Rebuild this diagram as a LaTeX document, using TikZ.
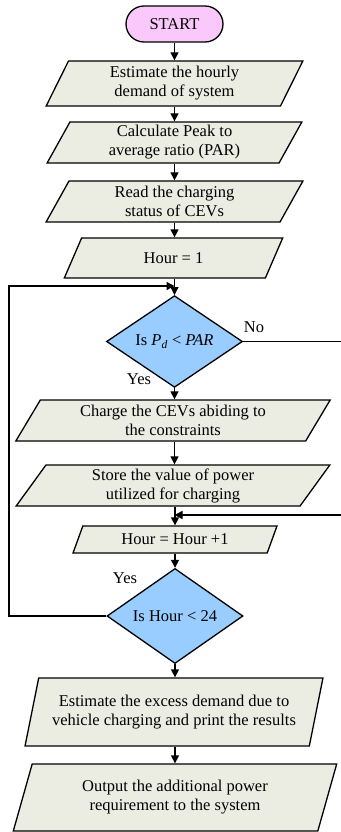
\documentclass[tikz,border=0pt]{standalone}
\usepackage{fontspec}
\setmainfont{Liberation Serif}
\usetikzlibrary{shapes.geometric, shapes.misc, arrows.meta}
\definecolor{boxfill}{RGB}{235,237,226}
\definecolor{startfill}{RGB}{250,200,250}
\definecolor{decfill}{RGB}{153,204,255}

\begin{document}
\begin{tikzpicture}[x=1pt, y=-1pt,
  font=\fontsize{16.5}{19}\selectfont, line width=1.3pt,
  databox/.style={draw, fill=boxfill, trapezium, trapezium stretches=true,
    align=center, inner sep=1pt},
  decision/.style={draw, diamond, fill=decfill, inner sep=0pt,
    minimum width=136pt, minimum height=81pt},
  flow/.style={-{Triangle[length=8pt,width=8pt]}}]
\useasboundingbox (0,0) rectangle (340,832);

% main column
\node[draw, rounded rectangle, fill=startfill, minimum width=97pt,
  minimum height=36pt, inner sep=0pt] (start) at (174.5,24) {START};
\node[databox, trapezium left angle=69, trapezium right angle=111,
  minimum width=257pt, minimum height=45pt] (b1) at (174.5,83.5)
  {Estimate the hourly\\demand of system};
\node[databox, trapezium left angle=68, trapezium right angle=112,
  minimum width=255pt, minimum height=41pt] (b2) at (174.5,142.5)
  {Calculate Peak to\\average ratio (PAR)};
\node[databox, trapezium left angle=68, trapezium right angle=112,
  minimum width=257pt, minimum height=41pt] (b3) at (174.5,201.5)
  {Read the charging\\status of CEVs};
\node[databox, trapezium left angle=66, trapezium right angle=114,
  minimum width=219pt, minimum height=40pt] (b4) at (173.5,258)
  {Hour = 1};
\node[decision] (d1) at (174.5,341.5)
  {Is \textit{P}\textsubscript{\textit{d}} < \textit{PAR}};
\node[databox, trapezium left angle=62, trapezium right angle=118,
  minimum width=315pt, minimum height=41pt] (b5) at (173,420.5)
  {Charge the CEVs abiding to\\the constraints};
\node[databox, trapezium left angle=62, trapezium right angle=118,
  minimum width=314pt, minimum height=41pt] (b6) at (173,485.5)
  {Store the value of power\\utilized for charging};
\node[databox, trapezium left angle=66, trapezium right angle=114,
  minimum width=204pt, minimum height=27pt] (b7) at (175,539.5)
  {Hour = Hour +1};
\node[decision] (d2) at (175,616) {Is Hour < 24};
\node[databox, trapezium left angle=71, trapezium right angle=109,
  minimum width=298pt, minimum height=68pt] (b8) at (174,712)
  {Estimate the excess demand due to\\vehicle charging and print the results};
\node[databox, trapezium left angle=71, trapezium right angle=109,
  minimum width=324pt, minimum height=67pt] (b9) at (175,797.5)
  {Output the additional power\\requirement to the system};

% branch labels
\node (no) at (254,327) {No};
\node (yes1) at (139,379) {Yes};
\node (yes2) at (125,578) {Yes};

% junction points of the two loops
\coordinate (j1) at (174.5,286);
\coordinate (j2) at (174.5,515);
\coordinate (loopleft) at (9,286);
\coordinate (loopright) at (346,341.5);

% connectors
\draw[flow] (start.south) -- (start.south |- b1.north);
\draw[flow] (b1.south) -- (b1.south |- b2.north);
\draw[flow] (b2.south) -- (b2.south |- b3.north);
\draw[flow] (b3.south) -- (b3.south |- b4.north);
\draw[flow] (b4.south -| d1.north) -- (d1.north);
\draw[flow] (d1.south) -- (d1.south |- b5.north);
\draw[flow] (b5.south -| d1.south) -- (d1.south |- b6.north);
\draw[flow] (b6.south -| b7.north) -- (b7.north);
\draw[flow] (b7.south -| d2.north) -- (d2.north);
\draw[flow] (d2.south) -- (d2.south |- b8.north);
\draw[flow] (b8.south -| d2.south) -- (d2.south |- b9.north);
\draw[flow] (d2.west) -| (loopleft) -- (j1);
\draw[flow] (d1.east) -- (loopright) |- (j2);
\end{tikzpicture}
\end{document}
